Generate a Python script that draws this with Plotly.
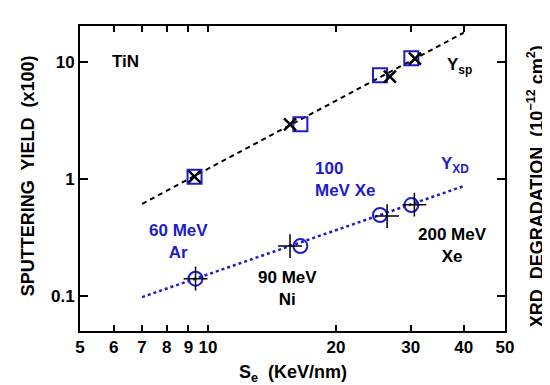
import plotly.graph_objects as go

# ---- data ----
se_sq = [9.3, 16.5, 25.4, 30.1]          # blue squares (Ysp)
ysp_sq = [1.04, 2.92, 7.65, 10.7]
se_x = [9.3, 15.6, 26.8, 30.7]           # black crosses (Ysp)
ysp_x = [1.04, 2.92, 7.45, 10.6]
se_circ = [9.35, 16.5, 25.4, 30.1]       # blue circles (YXD)
yxd_circ = [0.14, 0.266, 0.49, 0.596]
se_plus = [9.35, 15.6, 26.4, 30.6]       # black plus (YXD)
yxd_plus = [0.14, 0.266, 0.48, 0.60]
fit_sp_x = [7, 40]
fit_sp_y = [0.61, 17.7]
fit_xd_x = [7, 40]
fit_xd_y = [0.0975, 0.866]

xticks = [5, 6, 7, 8, 9, 10, 20, 30, 40, 50]
yticks = [0.1, 1, 10]
ytick_text = ["0.1", "1", "10"]

BLUE = "#1c1ccc"
FONT = "Liberation Sans, Arial, sans-serif"
XR = [0.69897, 1.69897]
YR = [-1.301, 1.305]

fig = go.Figure()
fig.add_trace(go.Scatter(x=fit_sp_x, y=fit_sp_y, mode="lines",
                         line=dict(color="black", width=2, dash="5px,4px")))
fig.add_trace(go.Scatter(x=fit_xd_x, y=fit_xd_y, mode="lines",
                         line=dict(color=BLUE, width=2.5, dash="dot")))
fig.add_trace(go.Scatter(x=se_sq, y=ysp_sq, mode="markers",
                         marker=dict(symbol="square-open", size=14, color=BLUE,
                                     line=dict(width=2, color=BLUE))))
fig.add_trace(go.Scatter(x=se_x, y=ysp_x, mode="markers",
                         marker=dict(symbol="x-thin-open", size=12, color="black",
                                     line=dict(width=2.5, color="black"))))
fig.add_trace(go.Scatter(x=se_circ, y=yxd_circ, mode="markers",
                         marker=dict(symbol="circle-open", size=14, color=BLUE,
                                     line=dict(width=2, color=BLUE))))
fig.add_trace(go.Scatter(x=se_plus, y=yxd_plus, mode="markers",
                         marker=dict(symbol="cross-thin-open", size=17, color="black",
                                     line=dict(width=1.5, color="black"))))

tf = dict(family=FONT, size=17, color="black")
NOGRID = "rgba(0,0,0,0)"

fig.update_layout(
    xaxis=dict(type="log", range=XR, tickmode="array", tickvals=xticks,
               ticktext=["<b>%d</b>" % v for v in xticks],
               ticks="inside", ticklen=6, tickwidth=2, tickcolor="black",
               showline=True, linewidth=2, linecolor="black", mirror="allticks",
               tickfont=tf, gridcolor=NOGRID),
    yaxis=dict(type="log", range=YR, tickmode="array", tickvals=yticks,
               ticktext=["<b>%s</b>" % t for t in ytick_text],
               ticks="inside", ticklen=8, tickwidth=2, tickcolor="black",
               showline=True, linewidth=2, linecolor="black", mirror="allticks",
               tickfont=tf, gridcolor=NOGRID),
)

af = dict(family=FONT, size=17, color="black")
bf = dict(family=FONT, size=17, color=BLUE)
anns = [
    dict(text="<b>TiN</b>", x=0.108, y=0.885, font=af),
    dict(text="<b>Y<sub>sp</sub></b>", x=0.894, y=0.869, font=af),
    dict(text="<b>Y<sub>XD</sub></b>", x=0.882, y=0.544, font=bf),
    dict(text="<b>100<br>MeV Xe</b>", x=0.548, y=0.498, xanchor="left", align="left", font=bf),
    dict(text="<b>60 MeV<br>Ar</b>", x=0.231, y=0.292, font=bf),
    dict(text="<b>90 MeV<br>Ni</b>", x=0.489, y=0.138, font=af),
    dict(text="<b>200 MeV<br>Xe</b>", x=0.876, y=0.280, font=af),
    dict(text="<b>SPUTTERING  YIELD  (x100)</b>", x=-0.122, y=0.508, textangle=-90,
         font=dict(family=FONT, size=18, color="black")),
    dict(text="<b>XRD  DEGRADATION  (10<sup>\u221212</sup> cm<sup>2</sup>)</b>", x=1.071,
         y=0.475, textangle=-90, font=dict(family=FONT, size=18, color="black")),
    dict(text="<b>S<sub>e</sub>  (KeV/nm)</b>", x=0.5, y=-0.138,
         font=dict(family=FONT, size=18, color="black")),
]
for a in anns:
    a.setdefault("xanchor", "center")
    a.setdefault("yanchor", "middle")
    fig.add_annotation(xref="paper", yref="paper", showarrow=False, **a)

fig.update_layout(width=550, height=385, showlegend=False,
                  margin=dict(l=72, r=53, t=18, b=62),
                  plot_bgcolor="white", paper_bgcolor="white")
fig.write_html("out.html")
